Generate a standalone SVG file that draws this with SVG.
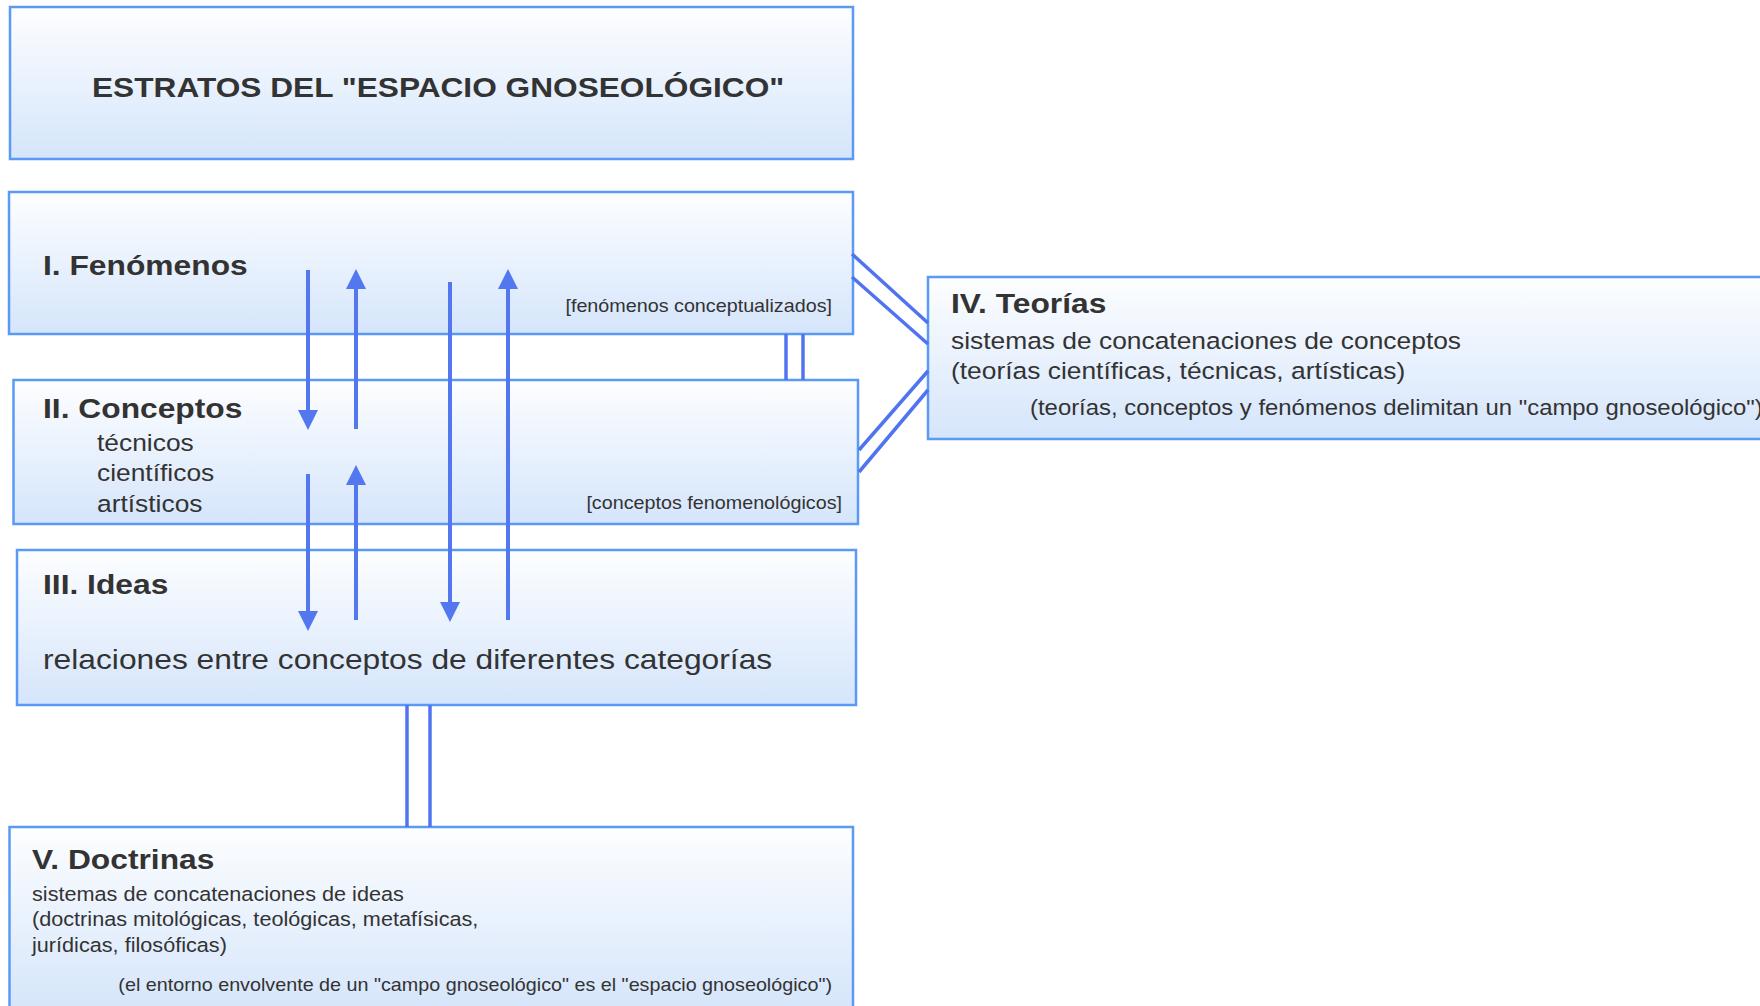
<svg xmlns="http://www.w3.org/2000/svg" width="1760" height="1006" viewBox="0 0 1760 1006">
<defs>
<linearGradient id="boxfill" x1="0" y1="0" x2="0" y2="1">
<stop offset="0" stop-color="#fdfeff"/>
<stop offset="1" stop-color="#d5e5fb"/>
</linearGradient>
<marker id="head" markerUnits="userSpaceOnUse" markerWidth="20" markerHeight="20" refX="0" refY="9" orient="auto" viewBox="0 0 18 18">
<path d="M0,0 L18,9 L0,18 z" fill="#5277ee"/>
</marker>
<style>
.box{fill:url(#boxfill);stroke:#5a9af6;stroke-width:2.5}
text{font-family:"Liberation Sans",Arial,sans-serif;fill:#333333}
.h{font-weight:bold;font-size:28.3px}
.t{font-size:28.2px;font-weight:bold}
.m{font-size:23.5px}
.s{font-size:19.3px}
.n{font-size:17.6px}
.l{font-size:28.3px}
.end{text-anchor:end}
.con line{stroke:#5074f0;stroke-width:3.5;fill:none}
.arr line{stroke:#5277ee;stroke-width:4;marker-end:url(#head)}
</style>
</defs>
<rect width="1760" height="1006" fill="#ffffff"/>

<g id="title">
<rect class="box" x="10" y="7" width="843" height="152"/>
<text class="t" transform="translate(92,97) scale(1.1225,1)">ESTRATOS DEL "ESPACIO GNOSEOLÓGICO"</text>
</g>

<g id="fenomenos">
<rect class="box" x="9" y="192" width="844" height="142"/>
<text class="h" transform="translate(43,275) scale(1.1225,1)">I. Fenómenos</text>
<text class="n end" transform="translate(832,312) scale(1.1225,1)">[fenómenos conceptualizados]</text>
</g>

<g id="conceptos">
<rect class="box" x="13.5" y="380" width="844.5" height="144"/>
<text class="h" transform="translate(43,418) scale(1.1225,1)">II. Conceptos</text>
<text class="m" transform="translate(97,451) scale(1.1225,1)">técnicos</text>
<text class="m" transform="translate(97,481) scale(1.1225,1)">científicos</text>
<text class="m" transform="translate(97,512) scale(1.1225,1)">artísticos</text>
<text class="n end" transform="translate(842,509) scale(1.1225,1)">[conceptos fenomenológicos]</text>
</g>

<g id="ideas">
<rect class="box" x="17" y="550" width="839" height="155"/>
<text class="h" transform="translate(43,594) scale(1.1225,1)">III. Ideas</text>
<text class="l" transform="translate(43,669) scale(1.1225,1)">relaciones entre conceptos de diferentes categorías</text>
</g>

<g id="teorias">
<rect class="box" x="928" y="277" width="850" height="162"/>
<text class="h" transform="translate(951,313) scale(1.1225,1)">IV. Teorías</text>
<text class="m" transform="translate(951,349) scale(1.1225,1)">sistemas de concatenaciones de conceptos</text>
<text class="m" transform="translate(951,379) scale(1.1225,1)">(teorías científicas, técnicas, artísticas)</text>
<text transform="translate(1030,415) scale(1.1225,1)" style="font-size:21.3px">(teorías, conceptos y fenómenos delimitan un "campo gnoseológico")</text>
</g>

<g id="doctrinas">
<rect class="box" x="9.5" y="827" width="843.5" height="185"/>
<text class="h" transform="translate(32,869) scale(1.1225,1)">V. Doctrinas</text>
<text class="s" transform="translate(32,901) scale(1.1225,1)">sistemas de concatenaciones de ideas</text>
<text class="s" transform="translate(32,926) scale(1.1225,1)">(doctrinas mitológicas, teológicas, metafísicas,</text>
<text class="s" transform="translate(32,952) scale(1.1225,1)">jurídicas, filosóficas)</text>
<text class="n end" transform="translate(832,991) scale(1.1225,1)">(el entorno envolvente de un "campo gnoseológico" es el "espacio gnoseológico")</text>
</g>

<g id="connectors">
<g class="con">
<line x1="786" y1="334" x2="786" y2="380"/>
<line x1="803" y1="334" x2="803" y2="380"/>
<line x1="407" y1="705" x2="407" y2="827"/>
<line x1="430" y1="705" x2="430" y2="827"/>
<line x1="852" y1="254" x2="928" y2="323"/>
<line x1="852" y1="277" x2="928" y2="344"/>
<line x1="859" y1="450" x2="928" y2="371"/>
<line x1="859" y1="472" x2="928" y2="390"/>
</g>
<g class="arr">
<line x1="308" y1="270" x2="308" y2="410"/>
<line x1="356" y1="429" x2="356" y2="289"/>
<line x1="308" y1="474" x2="308" y2="611"/>
<line x1="356" y1="620" x2="356" y2="485"/>
<line x1="450" y1="282" x2="450" y2="602"/>
<line x1="508" y1="620" x2="508" y2="289"/>
</g>
</g>
</svg>
